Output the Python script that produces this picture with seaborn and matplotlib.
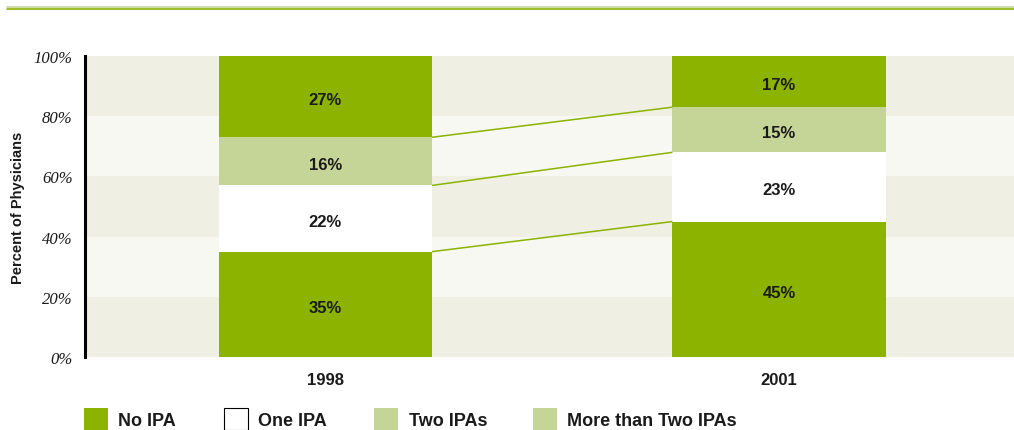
import matplotlib
matplotlib.use("Agg")
import matplotlib.pyplot as plt
import matplotlib.patches as mpatches
import matplotlib.lines as mlines
import seaborn as sns
import pandas as pd

# Share of physicians by number of IPA contracts
years = ["1998", "2001"]
categories = ["No IPA", "One IPA", "Two IPAs", "More than Two IPAs"]
no_ipa = [35, 45]
one_ipa = [22, 23]
two_ipas = [16, 15]
more_than_two = [27, 17]
yticks = [0, 20, 40, 60, 80, 100]

DARK = "#8bb300"
LIGHT = "#c5d597"
BAND_A = "#eff0e3"
BAND_B = "#f7f8f1"
TEXT = "#1a1a1a"

sns.set_theme(style="white")
plt.rcParams["font.family"] = ["Liberation Sans", "DejaVu Sans"]

fig = plt.figure(figsize=(10.14, 4.31), dpi=100)
ax = fig.add_axes([85 / 1014, 1 - 358 / 431, 1 - 85 / 1014, 301 / 431])

# alternating horizontal bands
for i, lo in enumerate(yticks[:-1]):
    ax.axhspan(lo, lo + 20, color=BAND_A if i % 2 == 0 else BAND_B, lw=0, zorder=0)

series = [no_ipa, one_ipa, two_ipas, more_than_two]
seg_colors = [DARK, "#ffffff", LIGHT, DARK]
width = 0.47
bottoms = [0, 0]
tops_all = []
for vals, col in zip(series, seg_colors):
    df = pd.DataFrame({"year": years, "pct": vals})
    sns.barplot(data=df, x="year", y="pct", order=years, color=col,
                width=width, bottom=bottoms, saturation=1, ax=ax,
                edgecolor="none", linewidth=0, zorder=2)
    for i, v in enumerate(vals):
        ax.text(i, bottoms[i] + v / 2 - 1.0, f"{v}%", ha="center", va="center",
                fontsize=12, fontweight="bold", color=TEXT, zorder=4)
    bottoms = [b + v for b, v in zip(bottoms, vals)]
    tops_all.append(list(bottoms))

# connector lines between segment boundaries
for tops in tops_all[:-1]:
    ax.plot([0 + width / 2, 1 - width / 2], [tops[0], tops[1]],
            color=DARK, lw=1.1, zorder=3, solid_capstyle="butt")

ax.set_xlim(-0.530, 1.518)
ax.set_ylim(0, 100)
ax.set_yticks(yticks)
ax.set_yticklabels([f"{t}%" for t in yticks], fontfamily="Liberation Serif",
                   fontstyle="italic", fontsize=12, color=TEXT)
ax.tick_params(axis="y", length=0, pad=9)
ax.tick_params(axis="x", length=0, pad=11)
for lab in ax.get_xticklabels():
    lab.set_fontweight("bold")
    lab.set_fontsize(12)
    lab.set_color(TEXT)
ax.set_xlabel("")
ax.set_ylabel("Percent of Physicians", fontsize=10.5, fontweight="bold",
              color=TEXT, labelpad=6)
for s in ["top", "right", "bottom"]:
    ax.spines[s].set_visible(False)
ax.spines["left"].set_color("#000000")
ax.spines["left"].set_linewidth(2.2)
ax.spines["left"].set_zorder(5)

# header rule
fig.add_artist(mlines.Line2D([7 / 1014, 1], [1 - 8 / 431] * 2, color=LIGHT, lw=1.2))
fig.add_artist(mlines.Line2D([7 / 1014, 1], [1 - 9.5 / 431] * 2, color=DARK, lw=1.2))

# legend row
legend_items = [
    (84, 118, DARK, "none", "No IPA"),
    (224, 258, "#ffffff", "#000000", "One IPA"),
    (374, 409, LIGHT, "none", "Two IPAs"),
    (533, 567, LIGHT, "none", "More than Two IPAs"),
]
for sx, tx, fc, ec, lab in legend_items:
    fig.add_artist(mpatches.Rectangle((sx / 1014, 0), 24 / 1014, 22 / 431,
                                      facecolor=fc, edgecolor=ec, lw=0.8))
    fig.text(tx / 1014, 1 - 422 / 431, lab, ha="left", va="center",
             fontsize=13, fontweight="bold", color=TEXT)

fig.savefig("out.png", dpi=100)
